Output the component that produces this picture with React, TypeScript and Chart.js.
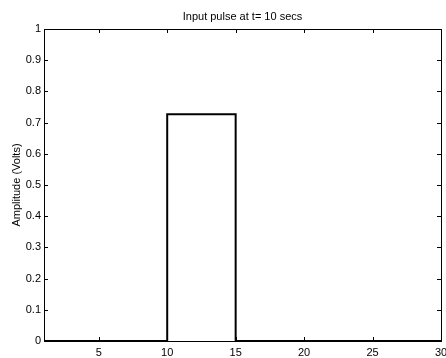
import React, { useEffect, useRef } from "react";
import { Chart, registerables } from "chart.js";

Chart.register(...registerables);

const times: number[] = [1, 10, 10, 15, 15, 30];
const amplitude: number[] = [0, 0, 0.727, 0.727, 0, 0];
const xTickValues: number[] = [5, 10, 15, 20, 25, 30];
const yTickValues: number[] = [0, 0.1, 0.2, 0.3, 0.4, 0.5, 0.6, 0.7, 0.8, 0.9, 1];
const titleText = "Input pulse at t= 10 secs";
const yAxisLabel = "Amplitude (Volts)";

const FONT = "'Liberation Sans', Arial, Helvetica, sans-serif";
const FONT_SIZE = 11;

const boxPlugin = {
  id: "matlabBox",
  afterDraw(chart: any) {
    const { ctx, chartArea, scales } = chart;
    const { left, right, top, bottom } = chartArea;
    ctx.save();
    ctx.strokeStyle = "#000";
    ctx.lineWidth = 1;
    ctx.strokeRect(Math.round(left) + 0.5, Math.round(top) + 0.5, Math.round(right - left), Math.round(bottom - top));
    const tl = 4;
    ctx.beginPath();
    for (const v of xTickValues) {
      const px = Math.round(scales.x.getPixelForValue(v)) + 0.5;
      ctx.moveTo(px, bottom);
      ctx.lineTo(px, bottom - tl);
      ctx.moveTo(px, top);
      ctx.lineTo(px, top + tl);
    }
    for (const v of yTickValues) {
      const py = Math.round(scales.y.getPixelForValue(v)) + 0.5;
      ctx.moveTo(left, py);
      ctx.lineTo(left + tl, py);
      ctx.moveTo(right, py);
      ctx.lineTo(right - tl, py);
    }
    ctx.stroke();
    ctx.fillStyle = "#000";
    ctx.font = `${FONT_SIZE}px ${FONT}`;
    ctx.textAlign = "center";
    ctx.textBaseline = "alphabetic";
    ctx.fillText(titleText, (left + right) / 2, 20);
    ctx.restore();
  },
};

export default function App() {
  const canvasRef = useRef<HTMLCanvasElement | null>(null);

  useEffect(() => {
    document.body.style.margin = "0";
    const canvas = canvasRef.current;
    if (!canvas) return;
    const chart = new Chart(canvas, {
      type: "line",
      data: {
        datasets: [
          {
            data: times.map((t, i) => ({ x: t, y: amplitude[i] })),
            borderColor: "#000",
            borderWidth: 2,
            pointRadius: 0,
            tension: 0,
            fill: false,
          },
        ],
      },
      options: {
        animation: false,
        responsive: false,
        devicePixelRatio: 1,
        layout: { padding: { top: 29, right: 5, left: 0, bottom: 0 } },
        plugins: {
          legend: { display: false },
          title: { display: false },
          tooltip: { enabled: false },
        },
        scales: {
          x: {
            type: "linear",
            min: 1,
            max: 30,
            grid: { display: false, drawTicks: false },
            border: { display: false },
            afterBuildTicks: (scale: any) => {
              scale.ticks = xTickValues.map((v) => ({ value: v }));
            },
            afterFit: (scale: any) => {
              scale.height = 17;
              scale.paddingLeft = 0;
              scale.paddingRight = 0;
            },
            ticks: {
              autoSkip: false,
              maxRotation: 0,
              padding: 5,
              color: "#000",
              font: { size: FONT_SIZE, family: FONT },
            },
          },
          y: {
            type: "linear",
            min: 0,
            max: 1,
            grid: { display: false, drawTicks: false },
            border: { display: false },
            afterBuildTicks: (scale: any) => {
              scale.ticks = yTickValues.map((v) => ({ value: v }));
            },
            afterFit: (scale: any) => {
              scale.width = 44;
              scale.paddingTop = 0;
              scale.paddingBottom = 0;
            },
            title: {
              display: true,
              text: yAxisLabel,
              color: "#000",
              font: { size: FONT_SIZE, family: FONT },
              padding: { top: 10, bottom: 0 },
            },
            ticks: {
              autoSkip: false,
              padding: 3,
              color: "#000",
              font: { size: FONT_SIZE, family: FONT },
              callback: (v: any) => String(Math.round(Number(v) * 10) / 10),
            },
          },
        },
      },
      plugins: [boxPlugin],
    } as any);
    return () => chart.destroy();
  }, []);

  return (
    <div style={{ position: "absolute", left: 0, top: 0, width: 446, height: 358, background: "#fff" }}>
      <canvas ref={canvasRef} width={446} height={358} style={{ display: "block", width: 446, height: 358 }} />
    </div>
  );
}
